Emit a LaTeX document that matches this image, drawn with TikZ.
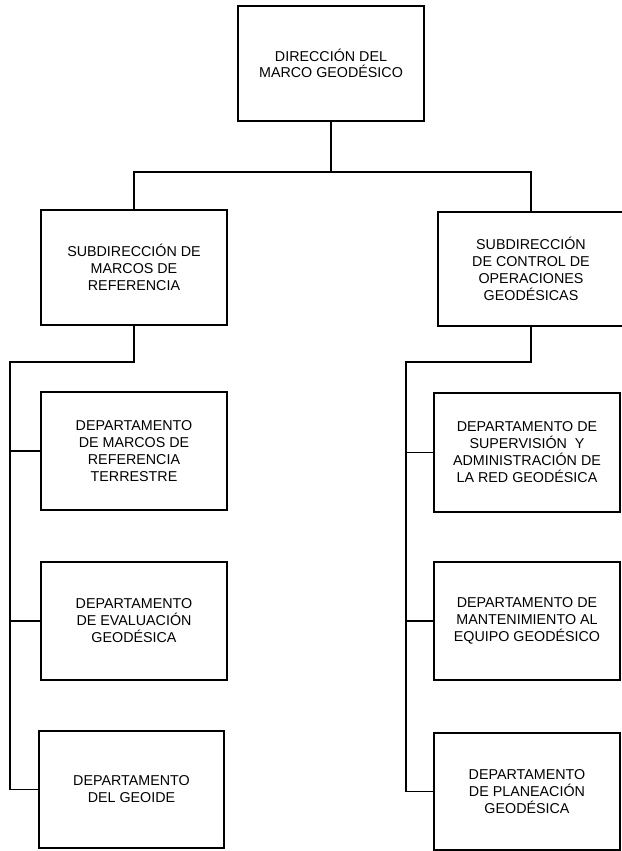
\documentclass[tikz,border=0pt]{standalone}
\usepackage{fontspec}
\setmainfont{Liberation Sans}
\begin{document}
\begin{tikzpicture}[x=1pt,y=-1pt,
  box/.style={draw, line width=1.2pt, anchor=north west, align=center, inner sep=0pt, outer sep=0pt,
    font=\fontsize{14.3}{17}\selectfont},
  conn/.style={line width=1.2pt}]
\useasboundingbox (0,0) rectangle (621,851);
% top
\node[box, minimum width=186pt, minimum height=115pt, font=\fontsize{14.3}{15.5}\selectfont] (top) at (238,6) {DIRECCIÓN DEL\\MARCO GEODÉSICO};
% subdirecciones
\node[box, minimum width=186pt, minimum height=115pt] (subL) at (41,210) {SUBDIRECCIÓN DE\\MARCOS DE\\REFERENCIA};
\node[box, minimum width=186pt, minimum height=114pt] (subR) at (438,212) {SUBDIRECCIÓN\\DE CONTROL DE\\OPERACIONES\\GEODÉSICAS};
% left departments
\node[box, minimum width=186pt, minimum height=118pt] (dL1) at (41,392) {DEPARTAMENTO\\DE MARCOS DE\\REFERENCIA\\TERRESTRE};
\node[box, minimum width=186pt, minimum height=118pt] (dL2) at (41,562) {DEPARTAMENTO\\DE EVALUACIÓN\\GEODÉSICA};
\node[box, minimum width=185pt, minimum height=117pt] (dL3) at (39,731) {DEPARTAMENTO\\DEL GEOIDE};
% right departments
\node[box, minimum width=186pt, minimum height=119pt] (dR1) at (434,393) {DEPARTAMENTO DE\\SUPERVISIÓN\ \ Y\\ADMINISTRACIÓN DE\\LA RED GEODÉSICA};
\node[box, minimum width=186pt, minimum height=118pt] (dR2) at (434,562) {DEPARTAMENTO DE\\MANTENIMIENTO AL\\EQUIPO GEODÉSICO};
\node[box, minimum width=186pt, minimum height=117pt] (dR3) at (434,733) {DEPARTAMENTO\\DE PLANEACIÓN\\GEODÉSICA};
% junction coordinates
\coordinate (jTop) at (331,172);
\coordinate (jL) at (10,362);
\coordinate (jR) at (406,362);
% top connectors
\draw[conn] (top.south) -- (jTop);
\draw[conn] (subL.north) |- (jTop) -| (subR.north);
% left trunk
\draw[conn] (subL.south) |- (jL) |- (dL3.west);
\draw[conn] (dL1.west) -- (dL1.west -| jL);
\draw[conn] (dL2.west) -- (dL2.west -| jL);
% right trunk
\draw[conn] (subR.south) |- (jR) |- (dR3.west);
\draw[conn] (dR1.west) -- (dR1.west -| jR);
\draw[conn] (dR2.west) -- (dR2.west -| jR);
\end{tikzpicture}
\end{document}
